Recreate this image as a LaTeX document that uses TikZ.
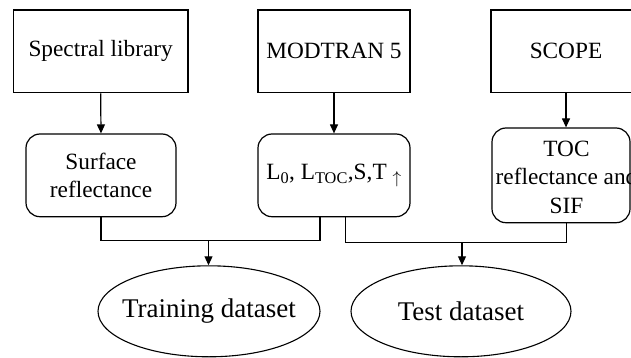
\documentclass[tikz,border=0pt]{standalone}
\usepackage{fontspec}
\setmainfont{Liberation Serif}
\usetikzlibrary{shapes.geometric,arrows.meta}
\begin{document}
\begin{tikzpicture}[x=1pt,y=-1pt,
  every node/.style={font=\fontsize{23.3}{28.5}\selectfont},
  srcbox/.style={draw,line width=1.2pt,rectangle,minimum height=82.7pt,inner sep=0pt},
  rbox/.style={draw,line width=1.2pt,rectangle,rounded corners=14pt,inner sep=0pt,align=center},
  dset/.style={draw,line width=1.1pt,ellipse,inner xsep=-10pt,inner ysep=0pt,minimum width=222pt,minimum height=91pt,font=\fontsize{27}{30}\selectfont},
  conn/.style={line width=1.2pt},
  arr/.style={line width=1.2pt,-{Triangle[length=9pt,width=8pt]}}]
\useasboundingbox (0,0) rectangle (631,358);
\clip (0,0) rectangle (631,358);
\node[srcbox,minimum width=174.7pt] (spec) at (100.65,51.35) {Spectral library};
\node[srcbox,minimum width=152pt] (mod) at (334,51.35) {MODTRAN 5};
\node[srcbox,minimum width=150pt] (scope) at (566,51.35) {SCOPE};
\node[rbox,minimum width=150pt,minimum height=82.7pt] (surf) at (101,175.35) {Surface\\reflectance};
\node[rbox,minimum width=152pt,minimum height=82.7pt] (atm) at (334,175.35) {L\textsubscript{0}, L\textsubscript{TOC},S,T \textsubscript{$\uparrow$}};
\node[rbox,minimum width=138pt,minimum height=94.7pt] (toc) at (561,175.35) {};
\node[align=center,inner sep=0pt] (toctext) at (566.5,177) {TOC\\reflectance and\\SIF};
\node[dset] (train) at (209,311.3) {Training dataset};
\node[dset,minimum width=220pt] (test) at (461,311.3) {Test dataset};
\coordinate (j1) at (208.5,240.7);
\coordinate (a2) at (320,216.7);
\coordinate (j2) at (462,242.3);
\coordinate (b2) at (345.7,216.7);
\coordinate (b3) at (566.6,222.7);
\draw[arr] (spec.south) -- (surf.north);
\draw[arr] (mod.south) -- (atm.north);
\draw[arr] (scope.south) -- (scope.south |- toc.north);
\draw[conn] (surf.south) |- (j1) -| (a2);
\draw[conn] (b2) |- (j2) -| (b3);
\draw[arr] (j1) -- (j1 |- train.north);
\draw[arr] (j2) -- (j2 |- test.north);
\end{tikzpicture}
\end{document}
